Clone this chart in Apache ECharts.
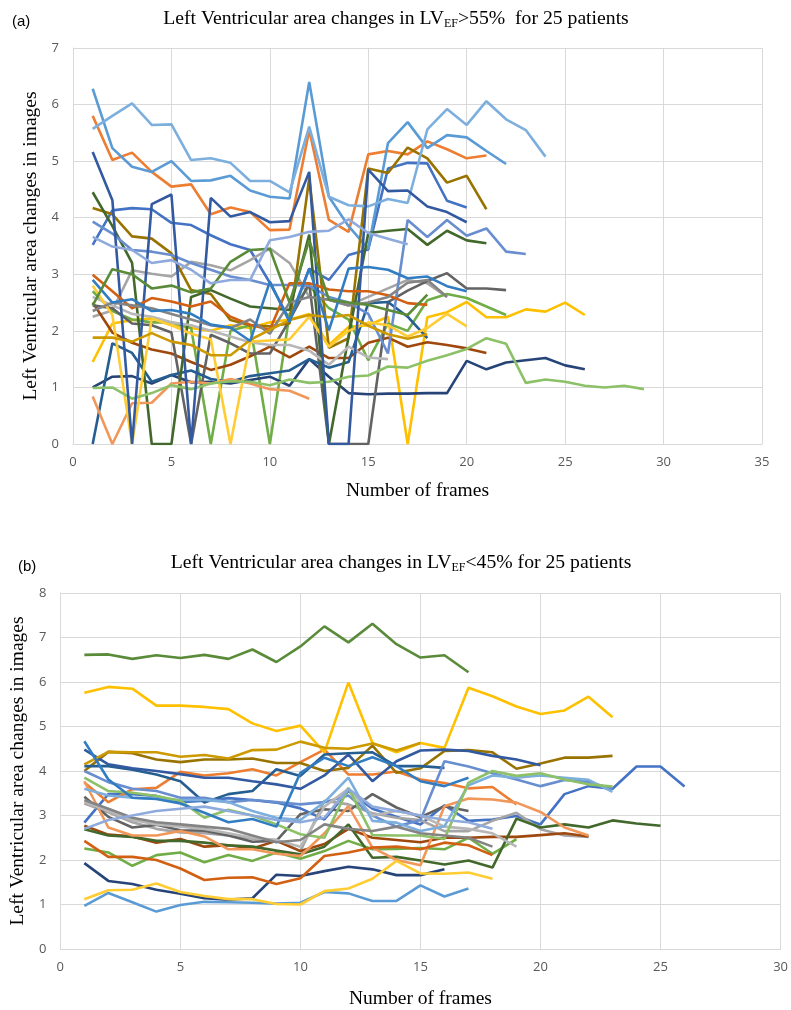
<!DOCTYPE html>
<html><head><meta charset="utf-8">
<script src="https://cdn.jsdelivr.net/npm/echarts@6/dist/echarts.min.js"></script>
<style>html,body{margin:0;padding:0;background:#fff}#c{width:791px;height:1010px}</style>
</head><body><div id="c"></div>
<script>
// Chart (a): LV_EF > 55%
const a01 = [3.52,4.13,4.17,4.15,3.91,3.87,3.69,3.53,3.43,2.85,2.2,3.1,2.9,3.34,3.44,4.87,4.97,4.96,4.3,4.18];
const a02 = [5.8,5.02,5.15,4.81,4.55,4.59,4.06,4.18,4.1,3.78,3.79,5.55,3.96,3.75,5.12,5.18,5.12,5.35,5.21,5.05,5.1];
const a03 = [2.25,2.36,3.07,3.01,2.96,3.22,3.16,3.07,3.25,3.46,3.2,2.6,2.55,2.45,2.6,2.75,2.9,2.84,2.6];
const a04 = [1.45,2.13,2.19,2.22,2.1,2.05,2.0,2.1,2.05,2.15,2.2,2.3,1.75,2.07,2.1,2.25,0,2.24,2.33,2.51,2.24,2.24,2.38,2.34,2.5,2.28];
const a05 = [6.28,5.23,4.9,4.81,5.0,4.65,4.66,4.74,4.48,4.37,4.34,6.4,4.37,3.85,3.45,5.32,5.69,5.23,5.46,5.42,5.18,4.95];
const a06 = [2.7,2.35,2.2,2.15,2.15,2.05,0,2.0,2.1,0,2.3,2.8,2.4,2.2,1.48,2.13,2.0,2.54,2.65,2.58,2.43,2.28];
const a07 = [1.0,1.19,1.2,1.07,1.22,1.09,1.1,1.07,1.13,1.19,1.03,1.5,1.19,0.9,0.88,0.89,0.89,0.9,0.9,1.47,1.32,1.44,1.48,1.52,1.39,1.32];
const a08 = [2.5,1.97,1.79,1.67,1.6,1.45,1.31,1.4,1.55,1.72,1.53,1.72,1.52,1.52,1.79,1.88,1.72,1.8,1.75,1.69,1.61];
const a09 = [2.45,2.4,2.13,2.1,1.97,0,1.93,1.78,1.6,1.6,2.19,2.84,0,0,0,2.51,2.71,2.88,3.02,2.75,2.75,2.72];
const a10 = [4.17,4.06,3.67,3.63,3.37,2.72,2.65,2.19,2.1,2.08,2.13,4.7,1.7,1.87,4.87,4.79,5.24,5.05,4.62,4.74,4.15];
const a11 = [0,1.78,1.61,1.1,1.22,1.3,1.15,1.1,1.2,1.25,1.3,1.5,1.35,1.45,2.49,2.51,2.25,1.87];
const a12 = [4.45,3.85,3.2,0,0,2.6,2.72,2.57,2.43,2.4,2.37,3.7,0,1.9,3.73,3.77,3.8,3.52,3.77,3.6,3.55];
const a13 = [3.93,3.72,3.43,3.4,3.34,3.2,3.08,2.96,2.9,2.81,2.81,2.8,2.6,2.5,2.3,1.6,3.96,3.66,3.96,3.68,3.81,3.4,3.36];
const a14 = [0.84,0,0.72,0.73,1.07,1.1,1.07,1.15,1.07,0.97,0.94,0.8];
const a15 = [2.6,2.45,2.3,2.25,2.15,2.1,2.0,1.9,1.8,1.75,1.75,1.65,1.4,1.72,1.53,1.5];
const a16 = [2.8,2.28,0,2.22,2.1,1.95,1.85,0,1.81,1.83,1.85,2.25,1.72,2.0,2.15,2.1,1.9,2.05,2.3,2.08];
const a17 = [5.57,5.8,6.02,5.64,5.65,5.02,5.05,4.97,4.65,4.65,4.45,5.61,4.37,4.22,4.2,4.33,4.26,5.56,5.92,5.64,6.06,5.74,5.55,5.08];
const a18 = [0.99,1.0,0.8,0.9,1.04,0.97,1.07,1.11,1.1,1.04,1.14,1.08,1.1,1.19,1.21,1.37,1.35,1.47,1.57,1.68,1.87,1.77,1.08,1.14,1.1,1.03,1.0,1.03,0.97];
const a19 = [5.16,4.31,0,4.24,4.41,0,4.35,4.02,4.1,3.92,3.94,4.81,0,0,4.85,4.47,4.48,4.2,4.1,3.92];
const a20 = [2.99,2.7,2.4,2.58,2.52,2.43,2.52,2.25,2.11,2.02,2.84,2.84,2.73,2.7,2.7,2.63,2.49,2.46];
const a21 = [2.35,2.5,2.45,2.4,2.3,2.2,2.1,2.05,2.2,1.95,2.5,2.6,2.55,2.45,2.5,2.6,2.85,2.9,2.6];
const a22 = [1.88,1.88,1.81,1.96,1.81,1.75,1.57,1.57,1.84,2.02,2.19,2.28,2.24,2.28,2.09,1.94,1.86,1.94];
const a23 = [2.9,2.5,2.56,2.35,2.37,2.3,2.11,2.06,1.82,2.87,2.16,3.1,2.01,3.1,3.13,3.08,2.93,2.96,2.79,2.7];
const a24 = [2.45,3.09,3.0,2.75,2.8,2.68,2.75,3.22,3.43,3.45,2.5,3.6,2.55,2.5,2.46,2.37,2.28,2.64];
const a25 = [3.66,3.49,3.43,3.2,3.25,3.08,2.84,2.9,2.9,3.6,3.66,3.75,3.77,3.97,3.73,3.63,3.53];

// Chart (b): LV_EF < 45%
const b01 = [2.84,3.48,3.48,3.44,3.3,3.33,3.39,3.35,3.29,3.16,2.91,3.55,3.15,2.97,2.8,3.23,2.88,2.91,2.99,2.8,3.48,3.66,3.6,4.1,4.1,3.65];
const b02 = [3.74,3.3,3.59,3.62,3.98,3.9,3.95,4.04,3.9,4.2,4.48,3.92,3.92,3.99,3.81,3.73,3.61,3.64,3.25];
const b03 = [3.27,3.07,2.85,2.7,2.62,2.6,2.55,2.48,2.45,2.2,3.33,3.25,3.05,2.95,2.9,2.65,2.65,2.88,3.06,2.69,2.55,2.52];
const b04 = [5.76,5.89,5.85,5.47,5.47,5.44,5.39,5.07,4.9,5.02,4.42,5.99,4.63,4.42,4.63,4.52,5.87,5.68,5.45,5.28,5.36,5.67,5.21];
const b05 = [0.97,1.26,1.05,0.84,0.99,1.06,1.05,1.04,1.02,1.04,1.28,1.25,1.08,1.08,1.43,1.18,1.36];
const b06 = [2.26,2.17,1.87,2.11,2.17,1.95,2.11,1.98,2.17,2.03,2.2,2.43,2.24,2.25,2.27,2.24,2.5,2.14,2.47];
const b07 = [1.93,1.53,1.46,1.33,1.24,1.14,1.11,1.14,1.67,1.64,1.75,1.85,1.79,1.66,1.66,1.79];
const b08 = [2.77,2.57,2.53,2.39,2.47,2.3,2.33,2.26,2.43,2.2,2.36,2.7,2.5,2.45,2.4,2.5,2.5,2.52,2.52,2.56,2.6,2.53];
const b09 = [3.42,2.97,2.73,2.79,2.67,2.66,2.55,2.41,2.43,3.03,3.14,3.1,3.48,3.18,2.96,3.21,3.1];
const b10 = [4.0,4.43,4.4,4.26,4.2,4.26,4.26,4.28,4.18,4.18,4.0,4.07,4.57,3.96,4.06,4.45,4.47,4.42,4.05,4.17,4.3,4.3,4.34];
const b11 = [4.11,4.11,4.03,3.92,3.77,3.29,3.48,3.55,4.04,3.89,4.37,4.4,4.42,4.11,4.11,4.07];
const b12 = [2.69,2.55,2.52,2.43,2.43,2.39,2.33,2.3,2.21,2.13,2.3,2.8,2.05,2.07,1.99,1.9,1.99,1.83,2.93,2.73,2.8,2.73,2.89,2.82,2.77];
const b13 = [4.0,3.75,3.6,3.55,3.4,3.4,3.3,3.35,3.3,3.25,3.3,3.45,3.0,2.75,2.9,4.22,4.1,3.95,3.81,3.66,3.8,3.75,3.6];
const b14 = [3.77,2.73,2.55,2.55,2.65,2.53,2.24,2.24,2.14,2.09,2.6,3.21,2.28,2.0,1.88,3.21,3.38,3.36,3.29,3.08,2.73,2.55];
const b15 = [3.3,3.1,2.9,2.8,2.75,2.7,2.6,2.5,2.45,2.3,3.2,3.6,3.0,3.1,3.0,2.75,2.7,2.6,2.3];
const b16 = [1.12,1.32,1.33,1.47,1.28,1.19,1.12,1.12,1.01,1.0,1.3,1.36,1.58,1.98,1.7,1.69,1.72,1.58];
const b17 = [3.6,3.45,3.4,3.38,3.35,3.35,3.3,3.1,2.95,2.9,3.3,3.85,2.88,2.84,2.65,2.76,3.68,3.9,3.85,3.9,3.85,3.8,3.53];
const b18 = [3.85,3.55,3.51,3.44,3.33,2.95,3.13,3.0,2.8,2.58,2.5,3.62,2.56,2.55,2.55,2.47,3.74,4.0,3.89,3.95,3.81,3.7,3.65];
const b19 = [4.48,4.15,4.06,4.0,3.93,3.85,3.85,3.77,3.7,3.6,3.9,4.37,3.77,4.22,4.46,4.48,4.45,4.34,4.26,4.13];
const b20 = [2.43,2.07,2.07,2.0,1.81,1.55,1.6,1.61,1.46,1.59,2.09,2.17,2.28,2.3,2.24,2.39,2.33,2.11];
const b21 = [3.35,3.15,2.95,2.85,2.8,2.75,2.7,2.55,2.4,2.45,2.8,2.7,2.65,2.75,2.6,2.55,2.5,2.3];
const b22 = [4.15,4.43,4.42,4.42,4.32,4.36,4.28,4.47,4.48,4.66,4.52,4.5,4.62,4.46,4.63];
const b23 = [4.67,3.81,3.4,3.37,3.27,3.06,2.85,2.92,2.75,3.96,4.3,4.11,4.31,4.11,3.77,3.66,3.85];
const b24 = [6.61,6.62,6.52,6.6,6.54,6.61,6.52,6.73,6.45,6.8,7.25,6.89,7.31,6.85,6.55,6.6,6.22];
const b25 = [2.7,2.9,3.0,3.1,3.15,3.2,3.1,3.0,2.9,2.85,2.95,3.6,3.2,3.1,3.0,2.9,2.85,2.7];

const xTicksA = [0,5,10,15,20,25,30,35];
const xTicksB = [0,5,10,15,20,25,30];

const palette = ['#4472C4','#ED7D31','#A5A5A5','#FFC000','#5B9BD5','#70AD47','#264478','#9E480E','#636363','#997300','#255E91','#43682B','#698ED0','#F1975A','#B7B7B7','#FFCD33','#7CAFDD','#8CC168','#335AA1','#D26012','#848484','#CC9A00','#327DC2','#5A8B39','#8FAADC'];

const seriesA = [a01,a02,a03,a04,a05,a06,a07,a08,a09,a10,a11,a12,a13,a14,a15,a16,a17,a18,a19,a20,a21,a22,a23,a24,a25];
const seriesB = [b01,b02,b03,b04,b05,b06,b07,b08,b09,b10,b11,b12,b13,b14,b15,b16,b17,b18,b19,b20,b21,b22,b23,b24,b25];

function mk(arr, i, g) {
  const c = palette[i];
  return {
    type: 'line', xAxisIndex: g, yAxisIndex: g,
    data: arr.map((v, k) => [k + 1, v]),
    symbol: 'none', showSymbol: false,
    lineStyle: { width: 2.6, color: c }, itemStyle: { color: c },
    animation: false, silent: true
  };
}

const gridLine = { show: true, lineStyle: { color: '#d9d9d9', width: 1 } };
const tickLabel = { color: '#595959', fontSize: 13, fontFamily: 'Open Sans, Liberation Sans, sans-serif' };
const nameStyle = { color: '#000', fontSize: 19.5, fontFamily: 'Liberation Serif, Times New Roman, serif' };

function xAx(g, max, ticks, gap) {
  return {
    type: 'value', gridIndex: g, min: ticks[0], max: max, interval: ticks[1] - ticks[0],
    axisLine: { show: true, lineStyle: { color: '#d9d9d9' } }, axisTick: { show: false },
    splitLine: gridLine, axisLabel: Object.assign({ margin: 12 }, tickLabel),
    name: 'Number of frames', nameLocation: 'middle', nameGap: gap, nameTextStyle: nameStyle
  };
}
function yAx(g, max, gap) {
  return {
    type: 'value', gridIndex: g, min: 0, max: max, interval: 1,
    axisLine: { show: true, lineStyle: { color: '#d9d9d9' } }, axisTick: { show: false },
    splitLine: gridLine, axisLabel: Object.assign({ margin: 14 }, tickLabel),
    name: 'Left Ventricular area changes in images', nameLocation: 'middle', nameGap: gap,
    nameTextStyle: nameStyle
  };
}

const titleRich = {
  t: { fontSize: 19.7, fontWeight: 'normal', fontFamily: 'Liberation Serif, serif', color: '#000' },
  s: { fontSize: 12, fontWeight: 'normal', fontFamily: 'Liberation Serif, serif', color: '#000', padding: [10, 0, 0, 0] }
};

const chart = echarts.init(document.getElementById('c'), null, { renderer: 'canvas' });
chart.setOption({
  backgroundColor: '#fff',
  animation: false,
  title: [
    { text: '{t|Left Ventricular area changes in LV}{s|EF}{t|>55%  for 25 patients}', left: 391, top: 3, textAlign: 'center', textStyle: { fontWeight: 'normal', rich: titleRich } },
    { text: '(a)', left: 7, top: 9, textStyle: { fontSize: 15, fontWeight: 'normal', color: '#000', fontFamily: 'Liberation Sans, sans-serif' } },
    { text: '{t|Left Ventricular area changes in LV}{s|EF}{t|<45% for 25 patients}', left: 396, top: 547, textAlign: 'center', textStyle: { fontWeight: 'normal', rich: titleRich } },
    { text: '(b)', left: 13, top: 554, textStyle: { fontSize: 15, fontWeight: 'normal', color: '#000', fontFamily: 'Liberation Sans, sans-serif' } }
  ],
  grid: [
    { left: 73, top: 48, width: 689, height: 396, containLabel: false },
    { left: 59, top: 593, width: 722, height: 357, containLabel: false }
  ],
  xAxis: [xAx(0, 35, xTicksA, 37), xAx(1, 30, xTicksB, 40)],
  yAxis: [yAx(0, 7, 27), yAx(1, 8, 25)],
  series: seriesA.map((a, i) => mk(a, i, 0)).concat(seriesB.map((b, i) => mk(b, i, 1)))
});
</script>
</body></html>
